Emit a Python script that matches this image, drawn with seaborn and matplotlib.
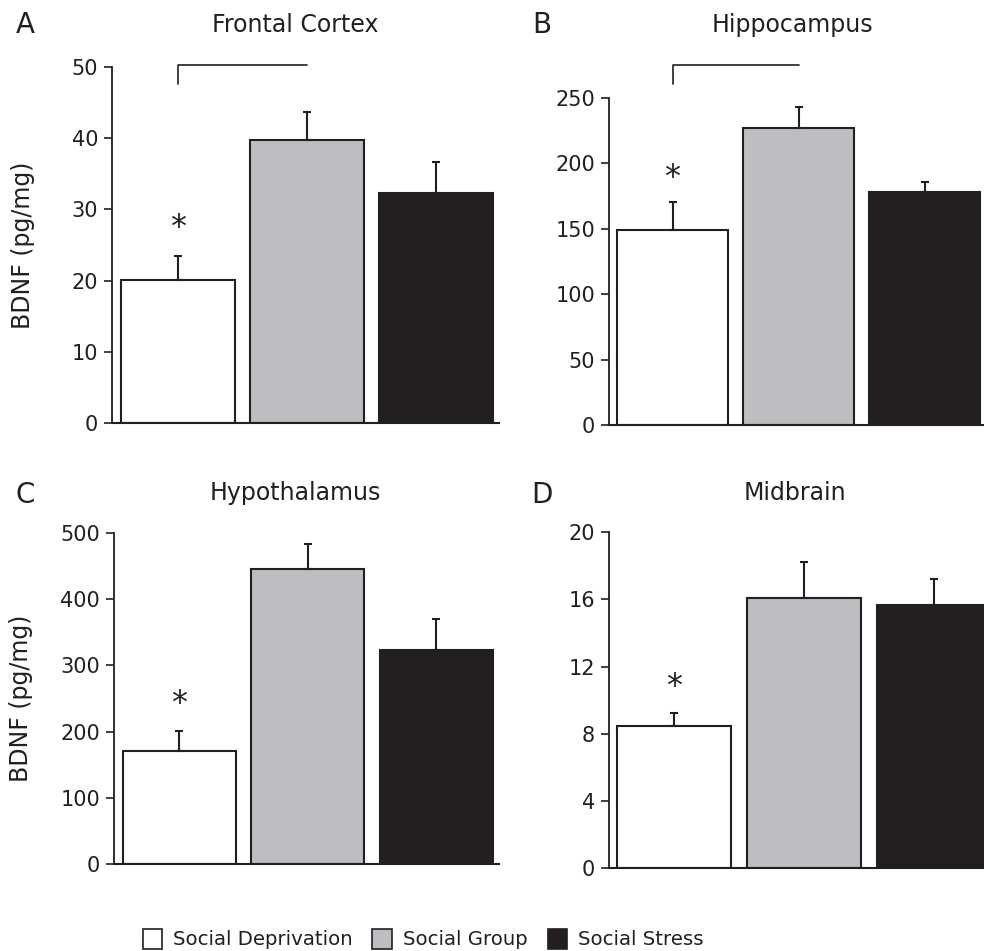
import numpy as np
import matplotlib
matplotlib.use("Agg")
import matplotlib.pyplot as plt
import pandas as pd
import seaborn as sns
from matplotlib.patches import Patch

sns.set_style("ticks")
plt.rcParams['font.family'] = ['DejaVu Sans']

# Datos
grupos = ['Social Deprivation', 'Social Group', 'Social Stress']
colores = ['#ffffff', '#bdbec1', '#231f20']
regiones = ['Frontal Cortex', 'Hippocampus', 'Hypothalamus', 'Midbrain']
letras = ['A', 'B', 'C', 'D']

media_frontal = [20.1, 39.8, 32.3]
error_frontal = [3.4, 3.9, 4.4]
media_hipo = [149, 227, 178]
error_hipo = [21, 16, 7.5]
media_hipot = [170, 446, 323]
error_hipot = [31, 37, 47]
media_mid = [8.47, 16.09, 15.65]
error_mid = [0.8, 2.15, 1.55]

medias = [media_frontal, media_hipo, media_hipot, media_mid]
errores = [error_frontal, error_hipo, error_hipot, error_mid]
ymax = [50, 250, 500, 20]
yticks = [[0, 10, 20, 30, 40, 50], [0, 50, 100, 150, 200, 250],
          [0, 100, 200, 300, 400, 500], [0, 4, 8, 12, 16, 20]]
asterisco_y = [27.4, 189, 243, 10.8]
corchete = [(50.3, 47.6), (275, 260.5), None, None]

posiciones = [[0.1138, 0.5552, 0.3933, 0.3743],
              [0.6189, 0.5531, 0.3811, 0.3442],
              [0.1159, 0.0915, 0.3912, 0.3480],
              [0.6189, 0.0870, 0.3811, 0.3533]]
xlims = [(-0.51, 2.49), (-0.504, 2.472), (-0.51, 2.49), (-0.5, 2.385)]
titulo_pos = [(0.300, 0.9737), (0.805, 0.9737), (0.300, 0.4816), (0.808, 0.4816)]
letra_pos = [(0.0254, 0.9737), (0.551, 0.9737), (0.0254, 0.4795), (0.551, 0.4795)]

fig = plt.figure(figsize=(9.84, 9.51), dpi=100)
borde = '#231f20'

for i in range(4):
    ax = fig.add_axes(posiciones[i])
    df = pd.DataFrame({'grupo': grupos, 'BDNF': medias[i]})
    sns.barplot(data=df, x='grupo', y='BDNF', hue='grupo', palette=colores,
                width=0.88, edgecolor=borde, linewidth=1.5, legend=False, ax=ax,
                saturation=1)
    # solo la parte superior del error
    ax.errorbar(np.arange(3), medias[i], yerr=[np.zeros(3), errores[i]],
                fmt='none', ecolor=borde, elinewidth=1.5, capsize=2.6,
                capthick=1.5, zorder=1)
    ax.set_ylim(0, ymax[i])
    ax.set_xlim(*xlims[i])
    ax.set_yticks(yticks[i])
    ax.set_xticks([])
    ax.set_xlabel('')
    ax.set_ylabel('')
    ax.tick_params(axis='y', labelsize=15, length=6, width=1.2, color=borde,
                   labelcolor=borde, pad=4)
    sns.despine(ax=ax)
    ax.spines['left'].set_color(borde)
    ax.spines['bottom'].set_color(borde)
    ax.spines['left'].set_linewidth(1.3)
    ax.spines['bottom'].set_linewidth(1.5)
    ax.patch.set_alpha(0)

    ax.text(0, asterisco_y[i], '*', ha='center', va='center', fontsize=23,
            color=borde)
    if corchete[i] is not None:
        arriba, abajo = corchete[i]
        ax.plot([0, 0, 1], [abajo, arriba, arriba], color=borde, lw=1.2,
                clip_on=False)

    if i in (0, 2):
        ax.set_ylabel('BDNF (pg/mg)', fontsize=17, color=borde)
        ax.yaxis.set_label_coords(-0.2 if i == 0 else -0.21, 0.5)

    fig.text(*titulo_pos[i], regiones[i], ha='center', va='center',
             fontsize=17, color=borde)
    fig.text(*letra_pos[i], letras[i], ha='center', va='center',
             fontsize=20, color=borde)

manijas = [Patch(facecolor=c, edgecolor=borde, linewidth=1.2) for c in colores]
fig.legend(manijas, grupos, loc='lower center', bbox_to_anchor=(0.43, -0.017),
           ncol=3, frameon=False, fontsize=14.2, handlelength=1.0,
           handleheight=1.2, handletextpad=0.55, columnspacing=1.0,
           labelcolor=borde)

fig.savefig('out.png', dpi=100)
